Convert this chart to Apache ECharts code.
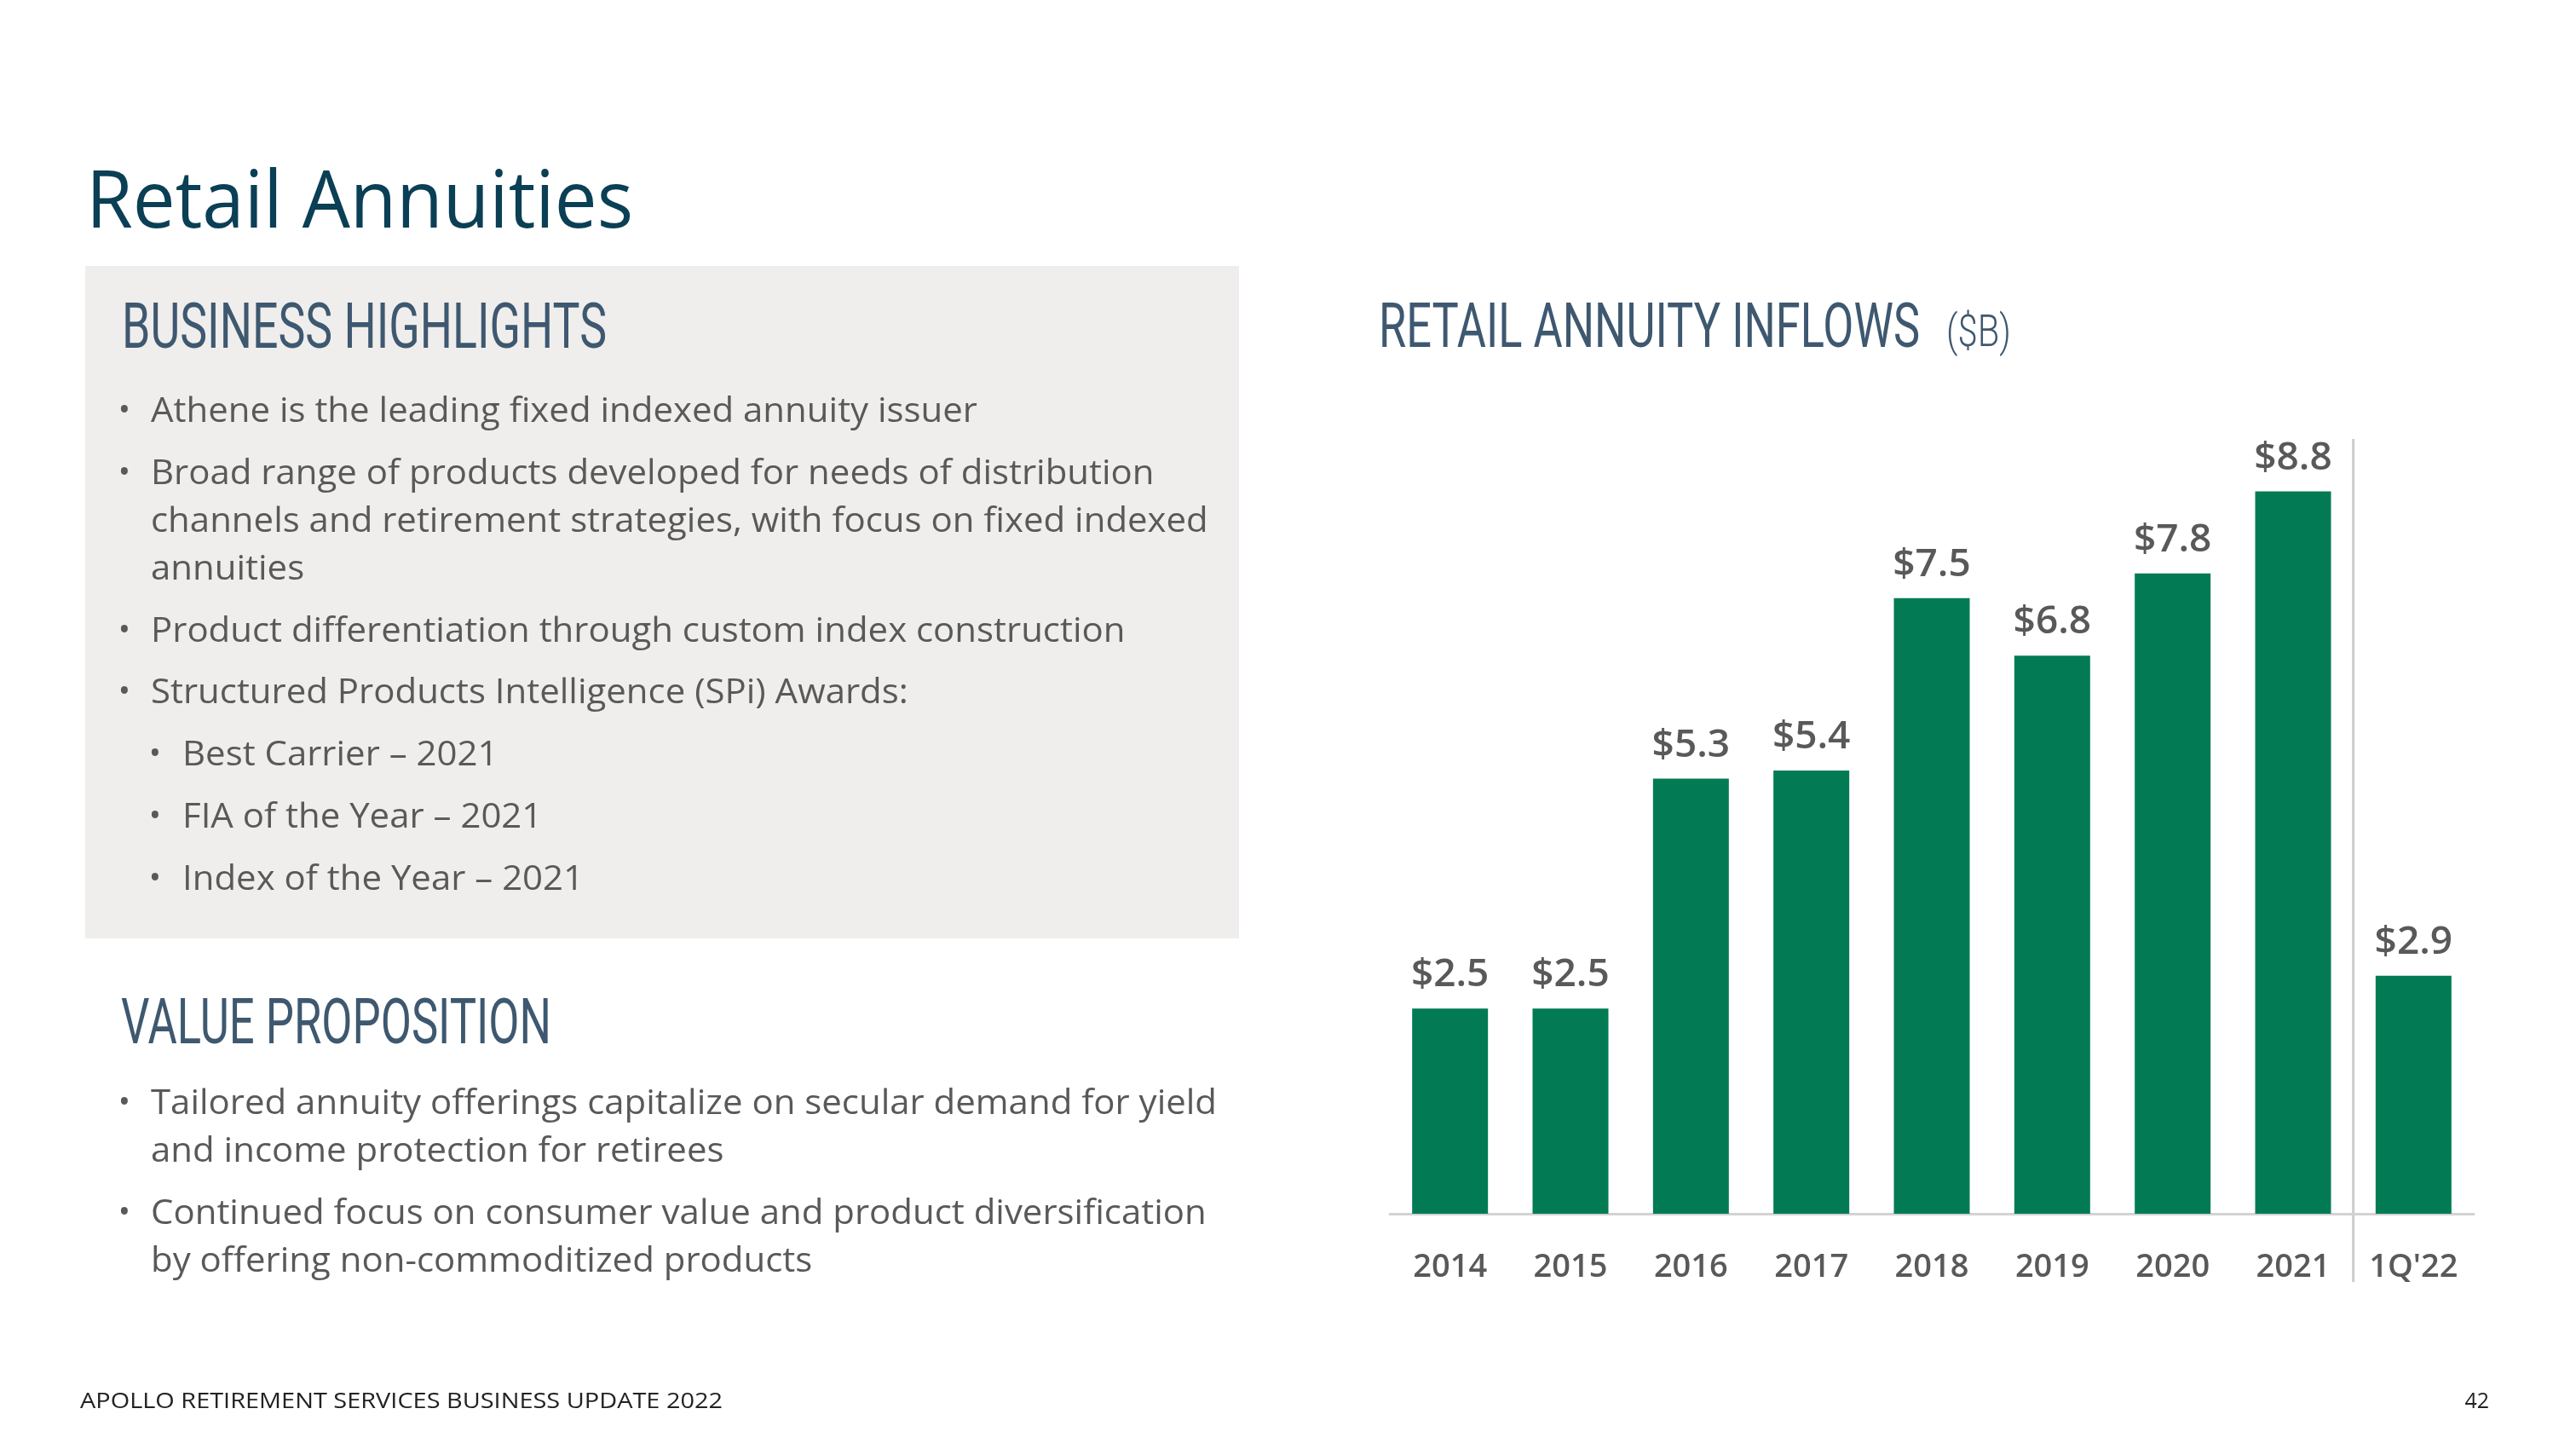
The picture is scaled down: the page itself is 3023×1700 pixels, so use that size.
<!DOCTYPE html>
<html>
<head>
<meta charset="utf-8">
<script src="https://cdn.jsdelivr.net/npm/echarts@6/dist/echarts.min.js"></script>
<style>
  html, body { margin: 0; padding: 0; background: #ffffff; }
  #main { width: 3023px; height: 1700px; }
</style>
</head>
<body>
<div id="main"></div>
<script>
// ---- data ----
const categories = ['2014', '2015', '2016', '2017', '2018', '2019', '2020', '2021', "1Q'22"];
const inflows = [2.5, 2.5, 5.3, 5.4, 7.5, 6.8, 7.8, 8.8, 2.9];

const pageTitle = 'Retail Annuities';
const chartTitle = 'RETAIL ANNUITY INFLOWS';
const chartUnit = '($B)';
const highlightsTitle = 'BUSINESS HIGHLIGHTS';
const valueTitle = 'VALUE PROPOSITION';
const highlightLines = [
  { text: 'Athene is the leading fixed indexed annuity issuer', bullet: 1 },
  { text: 'Broad range of products developed for needs of distribution', bullet: 1 },
  { text: 'channels and retirement strategies, with focus on fixed indexed', bullet: 0 },
  { text: 'annuities', bullet: 0 },
  { text: 'Product differentiation through custom index construction', bullet: 1 },
  { text: 'Structured Products Intelligence (SPi) Awards:', bullet: 1 },
  { text: 'Best Carrier \u2013 2021', bullet: 2 },
  { text: 'FIA of the Year \u2013 2021', bullet: 2 },
  { text: 'Index of the Year \u2013 2021', bullet: 2 }
];
const valueLines = [
  { text: 'Tailored annuity offerings capitalize on secular demand for yield', bullet: 1 },
  { text: 'and income protection for retirees', bullet: 0 },
  { text: 'Continued focus on consumer value and product diversification', bullet: 1 },
  { text: 'by offering non-commoditized products', bullet: 0 }
];
const footerText = 'APOLLO RETIREMENT SERVICES BUSINESS UPDATE 2022';
const pageNumber = '42';

// ---- helpers ----
const ctx = document.createElement('canvas').getContext('2d');
function measure(text, font) { ctx.font = font; return ctx.measureText(text).width; }

const BODY_FONT_FAMILY = '"Open Sans", "Noto Sans", sans-serif';
const HEAD_FONT_FAMILY = 'Roboto, "Noto Sans", sans-serif';
const bodySize = 41;
const bodyFont = bodySize + 'px ' + BODY_FONT_FAMILY;
const bodyScale = 970 / measure(highlightLines[0].text, bodyFont);

function headerText(text, x, y, width, size, color, weight) {
  const font = (weight || 'normal') + ' ' + size + 'px ' + HEAD_FONT_FAMILY;
  const sx = width / measure(text, font);
  return {
    type: 'text', x: x, y: y, scaleX: sx,
    style: { text: text, fontFamily: HEAD_FONT_FAMILY, fontSize: size, fontWeight: weight || 'normal',
             fill: color, align: 'left', verticalAlign: 'middle' }
  };
}

const graphics = [];
// grey box
graphics.push({ type: 'rect', shape: { x: 100, y: 312, width: 1354, height: 789 },
  style: { fill: '#efeeec' }, z: -10 });
// page title
(function () {
  const font = 'normal 94px ' + BODY_FONT_FAMILY;
  const sx = 642 / measure(pageTitle, font);
  graphics.push({ type: 'text', x: 101, y: 240, scaleX: sx,
    style: { text: pageTitle, fontFamily: BODY_FONT_FAMILY, fontSize: 94, fill: '#0a3f55',
             align: 'left', verticalAlign: 'middle' } });
})();
graphics.push(headerText(highlightsTitle, 143, 389, 569, 74, '#3e5870'));
graphics.push(headerText(valueTitle, 142, 1205, 505, 74, '#3e5870'));
graphics.push(headerText(chartTitle, 1618, 389, 635, 72, '#3e5870'));
graphics.push(headerText(chartUnit, 2284, 393, 76, 52, '#3e5870', 300));

function bodyBlock(lines, ys) {
  lines.forEach(function (ln, i) {
    const tx = ln.bullet === 2 ? 214 : 177;
    if (ln.bullet) {
      graphics.push({ type: 'text', x: ln.bullet === 2 ? 182 : 146, y: ys[i],
        style: { text: '\u2022', fontFamily: BODY_FONT_FAMILY, fontSize: 38, fill: '#595959',
                 align: 'center', verticalAlign: 'middle' } });
    }
    graphics.push({ type: 'text', x: tx, y: ys[i], scaleX: bodyScale,
      style: { text: ln.text, fontFamily: BODY_FONT_FAMILY, fontSize: bodySize, fill: '#595959',
               align: 'left', verticalAlign: 'middle' } });
  });
}
bodyBlock(highlightLines, [483, 556, 612, 668, 741, 813, 886, 959, 1032]);
bodyBlock(valueLines, [1295, 1351, 1424, 1480]);

// footer
(function () {
  const font = 'normal 25px ' + BODY_FONT_FAMILY;
  const sx = 754 / measure(footerText, font);
  graphics.push({ type: 'text', x: 94, y: 1645, scaleX: sx,
    style: { text: footerText, fontFamily: BODY_FONT_FAMILY, fontSize: 25, fill: '#222222',
             align: 'left', verticalAlign: 'middle' } });
  graphics.push({ type: 'text', x: 2921, y: 1645,
    style: { text: pageNumber, fontFamily: BODY_FONT_FAMILY, fontSize: 25, fill: '#222222',
             align: 'right', verticalAlign: 'middle' } });
})();

const chart = echarts.init(document.getElementById('main'), null, { renderer: 'canvas' });
chart.setOption({
  animation: false,
  backgroundColor: '#ffffff',
  grid: { left: 1631, right: 120, top: 461, bottom: 276, containLabel: false },
  xAxis: {
    type: 'category', data: categories,
    axisLine: { show: true, lineStyle: { color: '#d3d3d3', width: 3 } },
    axisTick: { show: false },
    axisLabel: { fontFamily: BODY_FONT_FAMILY, fontSize: 38, fontWeight: 600, color: '#595959', margin: 44 }
  },
  yAxis: { type: 'value', min: 0, max: 10, show: false, splitLine: { show: false } },
  series: [{
    type: 'bar', data: inflows, barWidth: 89,
    itemStyle: { color: '#027b55' },
    label: {
      show: true, position: 'top', distance: 16,
      fontFamily: BODY_FONT_FAMILY, fontSize: 46, fontWeight: 600, color: '#595959',
      formatter: function (p) { return '$' + p.value.toFixed(1); }
    }
  }],
  graphic: graphics
});

// separator between 2021 and 1Q'22, positioned through the category scale
const xa = chart.convertToPixel({ xAxisIndex: 0 }, categories[categories.length - 2]);
const xb = chart.convertToPixel({ xAxisIndex: 0 }, categories[categories.length - 1]);
const sepX = (xa + xb) / 2;
const topY = chart.convertToPixel({ yAxisIndex: 0 }, 9.44);
const baseY = chart.convertToPixel({ yAxisIndex: 0 }, 0);
graphics.push({ type: 'line', shape: { x1: sepX, y1: topY, x2: sepX, y2: baseY + 80 },
  style: { stroke: '#cccccc', lineWidth: 3 } });
chart.setOption({ graphic: graphics });
</script>
</body>
</html>
